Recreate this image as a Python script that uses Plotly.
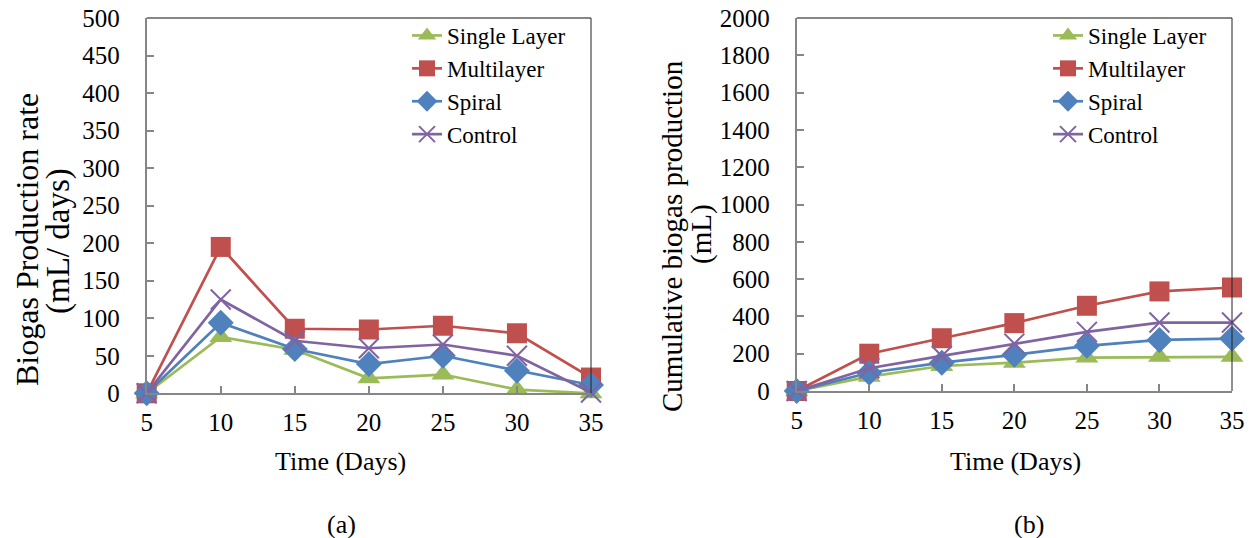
import plotly.graph_objects as go

# ---------------- data ----------------
days = [5, 10, 15, 20, 25, 30, 35]
series_names = ["Single Layer", "Multilayer", "Spiral", "Control"]

rate_single = [0, 75, 58, 20, 25, 5, 0]
rate_multi = [0, 195, 86, 85, 90, 80, 21]
rate_spiral = [0, 94, 59, 39, 50, 30, 11]
rate_control = [0, 125, 70, 60, 65, 50, 1]

cum_single = [0, 77, 134, 152, 179, 183, 183]
cum_multi = [0, 200, 283, 364, 457, 534, 555]
cum_spiral = [0, 98, 152, 194, 242, 274, 281]
cum_control = [0, 122, 188, 254, 317, 367, 367]

rate_series = [rate_single, rate_multi, rate_spiral, rate_control]
cum_series = [cum_single, cum_multi, cum_spiral, cum_control]

# ---------------- styles ----------------
W, H = 1259, 538
FONT = "Liberation Serif, Times New Roman, serif"
colors = ["#9BBB59", "#C0504D", "#4F81BD", "#8064A2"]
symbols = ["triangle-up", "square", "diamond", "x-thin"]
msizes = [20, 20, 20, 20]
AXC = "#868686"

fig = go.Figure()


def add_series(values_list, xa, ya, legend):
    for name, vals, c, s, ms in zip(series_names, values_list, colors, symbols, msizes):
        mk = dict(symbol=s, size=ms, color=c)
        if s == "x-thin":
            mk["line"] = dict(color=c, width=2)
        fig.add_trace(go.Scatter(
            x=days, y=vals, name=name, mode="lines+markers",
            line=dict(color=c, width=2.7), marker=mk,
            xaxis=xa, yaxis=ya, legend=legend, cliponaxis=False,
        ))


add_series(rate_series, "x", "y", "legend")
add_series(cum_series, "x2", "y2", "legend2")


def px_x(p):
    return p / W


def px_y(p):
    return 1 - p / H


xcommon = dict(range=[5, 35], dtick=5, tick0=5, showgrid=False, zeroline=False,
               showline=True, linecolor=AXC, linewidth=2, ticks="inside",
               ticklen=7, tickwidth=1.5, tickcolor=AXC, automargin=False,
               tickfont=dict(family=FONT, size=25, color="black"),
               ticklabelstandoff=6, fixedrange=True)
ycommon = dict(showgrid=False, zeroline=False, showline=True, linecolor=AXC,
               linewidth=2, ticks="inside", ticklen=7, tickwidth=1.5, tickcolor=AXC,
               automargin=False,
               tickfont=dict(family=FONT, size=25, color="black"),
               ticklabelstandoff=20, fixedrange=True)

legend_common = dict(xanchor="left", yanchor="top", bgcolor="rgba(0,0,0,0)",
                     font=dict(family=FONT, size=23, color="black"), tracegroupgap=0)

fig.update_layout(
    width=W, height=H, margin=dict(l=0, r=0, t=0, b=0, autoexpand=False),
    paper_bgcolor="white", plot_bgcolor="white",
    font=dict(family=FONT, color="black"),
    xaxis=dict(domain=[px_x(146.7), px_x(591)], anchor="y", **xcommon),
    yaxis=dict(domain=[px_y(393.3), px_y(18)], anchor="x", range=[0, 500], dtick=50, **ycommon),
    xaxis2=dict(domain=[px_x(796.7), px_x(1232)], anchor="y2", **xcommon),
    yaxis2=dict(domain=[px_y(391), px_y(18)], anchor="x2", range=[0, 2000], dtick=200, **ycommon),
    legend=dict(x=px_x(407), y=px_y(14), **legend_common),
    legend2=dict(x=px_x(1048), y=px_y(14), **legend_common),
    showlegend=True,
)

# frame top (gray) and right (dark) borders
for xa, ya in (("x", "y"), ("x2", "y2")):
    fig.add_shape(type="line", xref=f"{xa} domain", yref=f"{ya} domain",
                  x0=0, x1=1, y0=1, y1=1, line=dict(color=AXC, width=2))
    fig.add_shape(type="line", xref=f"{xa} domain", yref=f"{ya} domain",
                  x0=1, x1=1, y0=0, y1=1, line=dict(color="#222222", width=1))


def ann(text, x, y, size=26, angle=0):
    fig.add_annotation(text=text, x=px_x(x), y=px_y(y), xref="paper", yref="paper",
                       showarrow=False, textangle=angle, xanchor="center",
                       yanchor="middle", font=dict(family=FONT, size=size, color="black"))


ann("Biogas Production rate", 27, 240, size=32, angle=-90)
ann("(mL/ days)", 58, 241, size=33, angle=-90)
ann("Cumulative biogas production", 672, 236, size=29, angle=-90)
ann("(mL)", 702, 234, size=29, angle=-90)
ann("Time (Days)", 340, 461)
ann("Time (Days)", 1015, 461)
ann("(a)", 342, 524)
ann("(b)", 1029, 524)

fig.write_html("out.html")
